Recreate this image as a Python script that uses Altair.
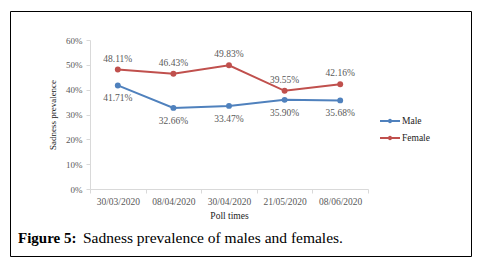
import altair as alt
import pandas as pd

dates = ["30/03/2020", "08/04/2020", "30/04/2020", "21/05/2020", "08/06/2020"]
male = [41.71, 32.66, 33.47, 35.90, 35.68]
female = [48.11, 46.43, 49.83, 39.55, 42.16]
series = ["Male", "Female"]
colors = ["#4F81BD", "#C0504D"]

rows = []
for d, m, f in zip(dates, male, female):
    rows.append({"date": d, "series": "Male", "value": m / 100, "label": f"{m:.2f}%"})
    rows.append({"date": d, "series": "Female", "value": f / 100, "label": f"{f:.2f}%"})
df = pd.DataFrame(rows)

FONT = "Liberation Serif"
GRAY = "#595959"

x = alt.X("date:N", sort=dates, title="Poll times",
          scale=alt.Scale(paddingInner=0, paddingOuter=0),
          axis=alt.Axis(labelAngle=0, tickBand="extent", tickSize=4, domainColor="#d9d9d9",
                        tickColor="#d9d9d9", labelColor=GRAY, labelFontSize=9.5,
                        titleFontSize=9.5, titleColor="#222222", titleFontWeight="normal",
                        labelPadding=3, titlePadding=5, labelFont=FONT, titleFont=FONT))
y = alt.Y("value:Q", title="Sadness prevalence",
          scale=alt.Scale(domain=[0, 0.6]),
          axis=alt.Axis(format=".0%", values=[0, 0.1, 0.2, 0.3, 0.4, 0.5, 0.6], grid=False,
                        domainColor="#d9d9d9", tickColor="#d9d9d9", tickSize=4,
                        labelColor=GRAY, labelFontSize=9, titleFontSize=9,
                        titleColor="#222222", titleFontWeight="normal", labelPadding=4,
                        titlePadding=8, labelFont=FONT, titleFont=FONT))
color = alt.Color("series:N", sort=series,
                  scale=alt.Scale(domain=series, range=colors),
                  legend=alt.Legend(title=None, orient="none", legendX=289, legendY=70,
                                    symbolType="M-1,0H1M-0.12,0a0.12,0.12 0 1,0 0.24,0a0.12,0.12 0 1,0 -0.24,0Z",
                                    symbolSize=400, symbolStrokeWidth=2,
                                    labelFont=FONT, labelFontSize=9.5, labelColor="#222222",
                                    labelFontWeight="normal",
                                    rowPadding=-5, labelOffset=1))

base = alt.Chart(df).encode(x=x, y=y, color=color)
lines = base.mark_line(strokeWidth=2)
points = base.mark_point(filled=True, size=35, opacity=1)
lab_f = base.transform_filter(alt.datum.series == "Female").mark_text(
    dy=-11, fontSize=9.5, font=FONT, color=GRAY).encode(text="label:N", color=alt.value(GRAY))
lab_m = base.transform_filter(alt.datum.series == "Male").mark_text(
    dy=13, fontSize=9.5, font=FONT, color=GRAY).encode(text="label:N", color=alt.value(GRAY))

border = alt.Chart(pd.DataFrame({"a": [0]})).mark_rect(fill=None, stroke="#000000", strokeWidth=1).encode(
    x=alt.value(-79.5), x2=alt.value(381.5), y=alt.value(-28.5), y2=alt.value(216.5))

cap1 = alt.Chart(pd.DataFrame({"t": ["Figure 5:"]})).mark_text(
    align="left", baseline="middle", font=FONT, fontSize=15, fontWeight="bold", color="#000000").encode(
    text="t:N", x=alt.value(-72), y=alt.value(198))
cap2 = alt.Chart(pd.DataFrame({"t": ["Sadness prevalence of males and females."]})).mark_text(
    align="left", baseline="middle", font=FONT, fontSize=15.5, color="#000000").encode(
    text="t:N", x=alt.value(-7), y=alt.value(198))

chart = alt.layer(lines, points, lab_f, lab_m, border, cap1, cap2).properties(
    width=278, height=149,
    autosize=alt.AutoSizeParams(type="none"),
    padding={"left": 90, "top": 40, "right": 109, "bottom": 72},
    background="#ffffff",
).configure_view(stroke=None)

chart.save("out.html", embed_options={"renderer": "svg", "actions": False})
